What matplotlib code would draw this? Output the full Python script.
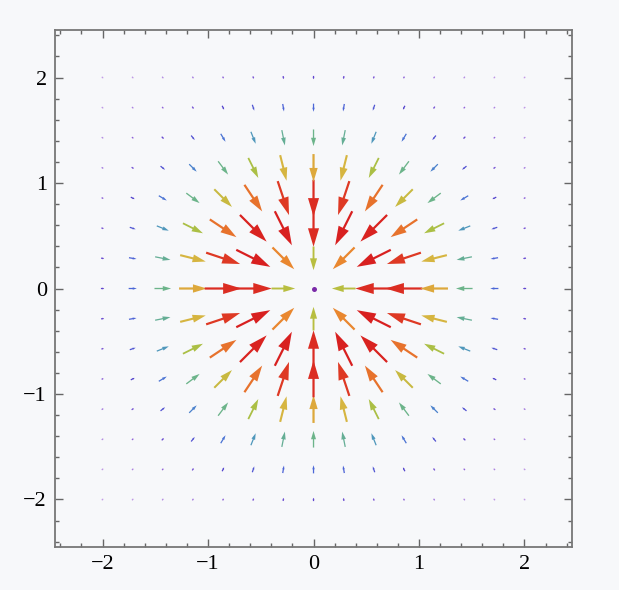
import numpy as np
import matplotlib
matplotlib.use('Agg')
import matplotlib.pyplot as plt
from matplotlib.colors import LinearSegmentedColormap

# sample grid of the vector plot (15 x 15 points from -2 to 2)
grid_x = [-2.0, -1.714, -1.429, -1.143, -0.857, -0.571, -0.286, 0.0,
          0.286, 0.571, 0.857, 1.143, 1.429, 1.714, 2.0]
grid_y = [-2.0, -1.714, -1.429, -1.143, -0.857, -0.571, -0.286, 0.0,
          0.286, 0.571, 0.857, 1.143, 1.429, 1.714, 2.0]
tick_vals = [-2, -1, 0, 1, 2]
tick_labels = ['\u22122', '\u22121', '0', '1', '2']

# colour scale by vector magnitude (low -> high)
color_stops = [0.0, 0.04, 0.1, 0.22, 0.32, 0.43, 0.6, 0.7, 0.8, 0.9, 1.0]
color_list = ['#c39ce6', '#8a5ad6', '#5540cc', '#4a6ad8', '#4a92c4', '#6ab48c',
              '#b0c040', '#d8b440', '#ea8c30', '#e24a26', '#d82020']
origin_color = '#7a2aa8'


def field(x, y):
    # attracting field -(x, y) exp(-(x^2 + y^2))
    e = np.exp(-(x * x + y * y))
    return -x * e, -y * e


cmap = LinearSegmentedColormap.from_list('vp', list(zip(color_stops, color_list)))

bg = '#f7f8fa'
fig = plt.figure(figsize=(6.19, 5.90), dpi=100, facecolor=bg)
ax = fig.add_axes([0.089, 0.073, 0.835, 0.876], facecolor=bg)

X, Y = np.meshgrid(grid_x, grid_y)
U, V = field(X, Y)
M = np.hypot(U, V)
mmax = M.max()
scale = 0.85  # data units per unit magnitude

for x, y, u, v, m in zip(X.ravel(), Y.ravel(), U.ravel(), V.ravel(), M.ravel()):
    c = cmap(m / mmax)
    if m == 0:
        ax.plot(x, y, 'o', color=origin_color, ms=3.6, mec='none')
        continue
    L = max(m * scale, 0.02)
    dx, dy = u / m * L, v / m * L
    w = min(0.021, max(0.012, 0.08 * L))
    ax.arrow(x - dx / 2, y - dy / 2, dx, dy, width=w,
             head_width=max(0.3 * L, 1.6 * w), head_length=0.5 * L,
             length_includes_head=True, color=c, lw=0)

ax.set_xlim(-2.45, 2.45)
ax.set_ylim(-2.45, 2.45)

ax.set_xticks(tick_vals)
ax.set_xticklabels(tick_labels)
ax.set_yticks(tick_vals)
ax.set_yticklabels(tick_labels)
minor = np.arange(-2.4, 2.41, 0.2)
ax.set_xticks(minor, minor=True)
ax.set_yticks(minor, minor=True)

ax.tick_params(which='both', direction='in', top=True, right=True,
               color='#666666', width=1.0, labelsize=16)
ax.tick_params(which='major', length=5.5, pad=6)
ax.tick_params(which='minor', length=3.2)
for lab in ax.get_xticklabels() + ax.get_yticklabels():
    lab.set_fontfamily('Liberation Serif')
for s in ax.spines.values():
    s.set_color('#777777')
    s.set_linewidth(1.3)

plt.savefig('out.png', dpi=100, facecolor=bg)
